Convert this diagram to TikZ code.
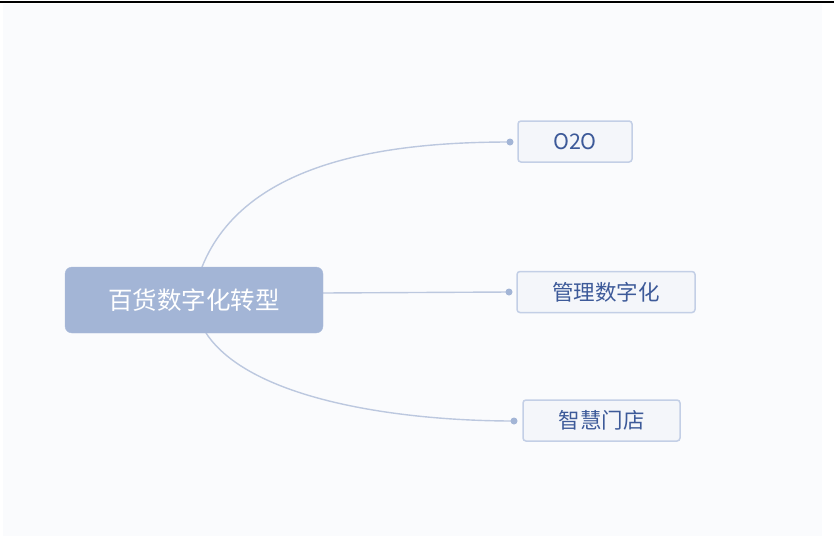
\documentclass[tikz,border=0pt]{standalone}
\usepackage{fontspec}
\setmainfont{Noto Sans CJK SC}
\newfontfamily\cjk{Noto Sans CJK SC}
\definecolor{bgc}{HTML}{FAFBFD}
\definecolor{rootfill}{HTML}{A3B5D6}
\definecolor{linec}{HTML}{BCC8DF}
\definecolor{dotc}{HTML}{A3B5D6}
\definecolor{leaffill}{HTML}{F4F6FA}
\definecolor{leafdraw}{HTML}{C3CFE6}
\definecolor{leaftext}{HTML}{3D5A99}
\tikzset{
  rootbox/.style={fill=rootfill, draw=rootfill!90!white, rounded corners=7pt, minimum width=258pt, minimum height=66pt, text=white, font=\cjk\fontsize{24.5}{28}\selectfont, inner sep=0pt},
  leafbox/.style={fill=leaffill, draw=leafdraw, line width=1.5pt, rounded corners=3pt, minimum height=41pt, text=leaftext, font=\cjk\fontsize{21.5}{24}\selectfont, inner sep=0pt},
  conn/.style={draw=linec, line width=1.4pt},
  dotc/.style={circle, fill=dotc, inner sep=0pt, minimum size=7pt}
}
\begin{document}
\begin{tikzpicture}[x=1pt,y=-1pt]
\useasboundingbox (0,0) rectangle (834,536);
\fill[white] (0,0) rectangle (834,536);
\fill[bgc] (3,4) rectangle (822,536);
\fill[black] (0,0.5) rectangle (834,3.2);
\coordinate (d1) at (510,142);
\coordinate (d2) at (509,292);
\coordinate (d3) at (514,421);
\coordinate (s1) at (202,267);
\coordinate (s3) at (206,333);
\draw[conn] (s1) .. controls (245,160) and (390,142) .. (d1);
\draw[conn] (323,293) -- (d2);
\draw[conn] (s3) .. controls (250,400) and (400,421) .. (d3);
\node[rootbox] (root) at (194,300) {百货数字化转型};
\node[leafbox, minimum width=114pt] (a) at (575,141.5) {O2O};
\node[leafbox, minimum width=178pt] (b) at (606,292) {管理数字化};
\node[leafbox, minimum width=157pt] (c) at (601.5,420.5) {智慧门店};
\node[dotc] at (d1) {};
\node[dotc] at (d2) {};
\node[dotc] at (d3) {};
\end{tikzpicture}
\end{document}
